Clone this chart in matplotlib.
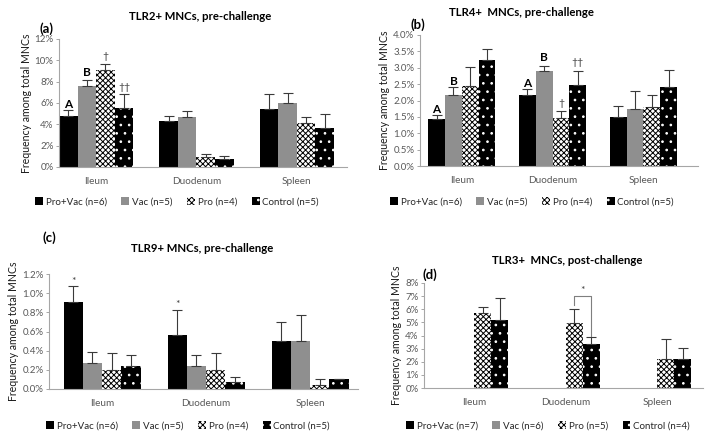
import numpy as np
import matplotlib
matplotlib.use('Agg')
import matplotlib.pyplot as plt
from matplotlib.patches import Patch

plt.rcParams['font.family'] = ['Lato', 'DejaVu Sans']
plt.rcParams['hatch.linewidth'] = 0.7

W, H = 710, 438

# data (values in %)
tissues = ['Ileum', 'Duodenum', 'Spleen']
groups = ['Pro+Vac', 'Vac', 'Pro', 'Control']

tlr2_mean = [[4.8, 4.3, 5.4], [7.6, 4.7, 6.0], [9.1, 0.9, 4.1], [5.5, 0.75, 3.7]]
tlr2_err = [[0.55, 0.5, 1.4], [0.55, 0.55, 0.95], [0.55, 0.3, 0.6], [1.35, 0.3, 1.25]]
tlr2_n = [6, 5, 4, 5]

tlr4_mean = [[1.43, 2.18, 1.49], [2.18, 2.90, 1.74], [2.43, 1.46, 1.80], [3.23, 2.48, 2.40]]
tlr4_err = [[0.12, 0.18, 0.35], [0.24, 0.16, 0.54], [0.60, 0.21, 0.36], [0.35, 0.42, 0.54]]
tlr4_n = [6, 5, 4, 5]

tlr9_mean = [[0.905, 0.565, 0.50], [0.27, 0.235, 0.50], [0.20, 0.20, 0.037], [0.235, 0.072, 0.105]]
tlr9_err = [[0.17, 0.255, 0.20], [0.115, 0.115, 0.27], [0.178, 0.178, 0.063], [0.115, 0.054, 0.0]]
tlr9_n = [6, 5, 4, 5]

tlr3_mean = [[0, 0, 0], [0, 0, 0], [5.71, 4.94, 2.24], [5.17, 3.33, 2.24]]
tlr3_err = [[0, 0, 0], [0, 0, 0], [0.43, 1.07, 1.51], [1.66, 0.55, 0.84]]
tlr3_n = [7, 6, 5, 4]

styles = [
    dict(color='black', edgecolor='black', hatch=None),
    dict(color='#8f8f8f', edgecolor='#8f8f8f', hatch=None),
    dict(color='white', edgecolor='black', hatch='xxxxxx'),
    dict(color='black', edgecolor='white', hatch='..'),
]


def px(x, y):
    return x / W, 1 - y / H


def panel(rect, means, errs, ns, ylim, yticks, fmt, xlim, title, tpos, label, lpos, legpos):
    l, r, b, t = rect
    ax = fig.add_axes([l / W, 1 - b / H, (r - l) / W, (b - t) / H])
    x = np.arange(len(tissues))
    w = 0.185
    for i in range(4):
        pos = x + (i - 1.5) * w
        st = styles[i]
        ax.bar(pos, means[i], w, color=st['color'], edgecolor=st['edgecolor'],
               hatch=st['hatch'], linewidth=0)
        e = np.array(errs[i])
        m = np.array(means[i])
        keep = m > 0
        ax.errorbar(pos[keep], m[keep], yerr=[np.zeros(keep.sum()), e[keep]], fmt='none',
                    ecolor='#3a3a3a', elinewidth=0.8, capsize=3.4, capthick=0.8)
    ax.set_xlim(*xlim)
    ax.set_ylim(*ylim)
    ax.set_yticks(yticks)
    ax.set_yticklabels([fmt.format(v) for v in yticks])
    ax.set_xticks(x)
    ax.set_xticklabels(tissues)
    for s in ['top', 'right']:
        ax.spines[s].set_visible(False)
    for s in ['left', 'bottom']:
        ax.spines[s].set_color('#a6a6a6')
        ax.spines[s].set_linewidth(0.8)
    ax.tick_params(axis='y', labelsize=7, colors='#a6a6a6', labelcolor='#595959', length=2.5, width=0.7, pad=1.5)
    ax.tick_params(axis='x', labelsize=7.2, labelcolor='#595959', length=0, pad=7)
    ax.set_ylabel('Frequency among total MNCs', fontsize=7.6, color='#1a1a1a', labelpad=2)
    fig.text(*px(*tpos), title, ha='center', va='center', fontsize=8.2, fontweight='bold')
    fig.text(*px(*lpos), label, ha='center', va='center', fontsize=9.5, fontweight='bold')
    handles = [Patch(facecolor=styles[i]['color'], edgecolor=styles[i]['edgecolor'],
                     hatch=styles[i]['hatch'], linewidth=0,
                     label='%s (n=%d)' % (groups[i], ns[i])) for i in range(4)]
    fig.legend(handles=handles, loc='center', bbox_to_anchor=px(*legpos), ncol=4, frameon=False,
               fontsize=7, handlelength=0.8, handleheight=0.8, handletextpad=0.3, columnspacing=1.5,
               labelcolor='#262626')
    return ax, x, w


fig = plt.figure(figsize=(W / 100, H / 100), dpi=100)

ax, x, w = panel((59, 347, 167, 39), tlr2_mean, tlr2_err, tlr2_n, (0, 12), np.arange(0, 13, 2), '{:.0f}%',
                 (-0.37, 2.5), 'TLR2+ MNCs, pre-challenge', (200, 16), '(a)', (46, 29), (177, 202))
for i, s, y in [(0, 'A', 5.9), (1, 'B', 8.9)]:
    ax.text(x[0] + (i - 1.5) * w, y, s, ha='center', va='center', fontsize=8.5, fontweight='bold')
for i, s, y in [(2, '†', 10.4), (3, '††', 7.5)]:
    ax.text(x[0] + (i - 1.5) * w, y, s, ha='center', va='center', fontsize=7.5, color='#404040')

ax, x, w = panel((420, 698, 166, 35), tlr4_mean, tlr4_err, tlr4_n, (0, 4), np.arange(0, 4.01, 0.5), '{:.1f}%',
                 (-0.46, 2.6), 'TLR4+  MNCs, pre-challenge', (521, 12), '(b)', (418, 25), (532, 202))
for k, i, s, y in [(0, 0, 'A', 1.72), (0, 1, 'B', 2.58), (1, 0, 'A', 2.53), (1, 1, 'B', 3.3)]:
    ax.text(x[k] + (i - 1.5) * w, y, s, ha='center', va='center', fontsize=8.5, fontweight='bold')
for k, i, s, y in [(1, 2, '†', 1.92), (1, 3, '††', 3.15)]:
    ax.text(x[k] + (i - 1.5) * w, y, s, ha='center', va='center', fontsize=7.5, color='#404040')

ax, x, w = panel((49, 358, 389, 274), tlr9_mean, tlr9_err, tlr9_n, (0, 1.2), np.arange(0, 1.21, 0.2), '{:.1f}%',
                 (-0.51, 2.46), 'TLR9+ MNCs, pre-challenge', (202, 248), '(c)', (49, 238), (188, 426))
for k, y in [(0, 1.12), (1, 0.88)]:
    ax.text(x[k] - 1.5 * w, y, '*', ha='center', va='center', fontsize=7.5, color='#404040')

ax, x, w = panel((424, 703, 388, 283), tlr3_mean, tlr3_err, tlr3_n, (0, 8), np.arange(0, 9, 1), '{:.0f}%',
                 (-0.55, 2.5), 'TLR3+  MNCs, post-challenge', (567, 261), '(d)', (430, 275), (548, 426))
x1 = x[1] + 0.5 * w
x2 = x[1] + 1.5 * w
ax.plot([x1, x1, x2, x2], [6.3, 7.0, 7.0, 4.0], color='#7f7f7f', lw=0.8)
ax.text((x1 + x2) / 2, 7.4, '*', ha='center', va='center', fontsize=7.5, color='#404040')

fig.savefig('out.png', dpi=100)
